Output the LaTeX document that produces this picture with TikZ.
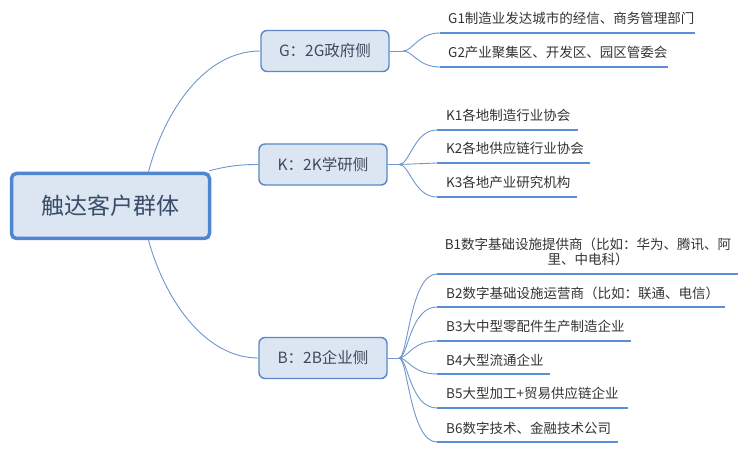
\documentclass[tikz,border=0pt]{standalone}
\usepackage{fontspec}
\setmainfont{Noto Sans CJK SC}
\definecolor{conn}{HTML}{6F96CE}
\definecolor{uln}{HTML}{5A8ED6}
\definecolor{bfill}{HTML}{DCE6F3}
\definecolor{bdraw}{HTML}{5B87C6}
\definecolor{rdraw}{HTML}{4E86D0}
\definecolor{ltext}{HTML}{333333}
\definecolor{btext}{HTML}{3E4A5C}
\definecolor{rtext}{HTML}{3A4B68}
\begin{document}
\begin{tikzpicture}[x=1pt,y=-1pt,
  rootbox/.style={draw=rdraw,line width=3.5pt,fill=bfill,rounded corners=5pt,
    minimum width=198pt,minimum height=65pt,inner sep=0pt,
    font=\fontsize{23}{27}\selectfont,text=rtext},
  branchbox/.style={draw=bdraw,line width=1.4pt,fill=bfill,rounded corners=6pt,
    minimum width=128pt,minimum height=41pt,inner sep=0pt,
    font=\fontsize{15.5}{18}\selectfont,text=btext},
  leaf/.style={anchor=base west,inner sep=0pt,text=ltext,
    font=\fontsize{13.5}{15}\selectfont},
  conline/.style={draw=conn,line width=0.9pt},
  uline/.style={draw=uln,line width=2.6pt}]
\useasboundingbox (0,0) rectangle (750,454);

% root and branches
\node[rootbox] (root) at (110.5,206) {触达客户群体};
\node[branchbox] (G) at (325,51) {G：2G政府侧};
\node[branchbox] (K) at (323,164.5) {K：2K学研侧};
\node[branchbox] (B) at (323,358) {B：2B企业侧};

% root connectors
\draw[conline] ([xshift=38pt]root.north) .. controls (165,110) and (205,51) .. (G.west);
\draw[conline] ([xshift=-2pt,yshift=1pt]root.north east) .. controls (228,166) and (240,164.5) .. (K.west);
\draw[conline] ([xshift=38pt]root.south) .. controls (165,300) and (205,358) .. (B.west);

% fork points
\coordinate (gf) at (403,51);
\coordinate (kf) at (399,164.5);
\coordinate (bf) at (399,358);
\draw[conline] (G.east) -- (gf);
\draw[conline] (K.east) -- (kf);
\draw[conline] (B.east) -- (bf);

% G leaves
\coordinate (g1a) at (440,33);  \coordinate (g1b) at (695,33);
\coordinate (g2a) at (440,67);  \coordinate (g2b) at (668,67);
\draw[conline] (gf) .. controls (413,51) and (418,33) .. (g1a);
\draw[conline] (gf) .. controls (413,51) and (418,67) .. (g2a);
\draw[uline] (g1a) -- (g1b);
\draw[uline] (g2a) -- (g2b);
\node[leaf] (g1) at (448,24) {G1制造业发达城市的经信、商务管理部门};
\node[leaf] (g2) at (448,58) {G2产业聚集区、开发区、园区管委会};

% K leaves
\coordinate (k1a) at (437,130);  \coordinate (k1b) at (578,130);
\coordinate (k2a) at (437,163);  \coordinate (k2b) at (590,163);
\coordinate (k3a) at (437,197);  \coordinate (k3b) at (577,197);
\draw[conline] (kf) .. controls (410,164.5) and (414,130) .. (k1a);
\draw[conline] (kf) -- (k2a);
\draw[conline] (kf) .. controls (410,164.5) and (414,197) .. (k3a);
\draw[uline] (k1a) -- (k1b);
\draw[uline] (k2a) -- (k2b);
\draw[uline] (k3a) -- (k3b);
\node[leaf] (k1) at (446,121) {K1各地制造行业协会};
\node[leaf] (k2) at (446,154) {K2各地供应链行业协会};
\node[leaf] (k3) at (446,188) {K3各地产业研究机构};

% B leaves
\coordinate (b1a) at (437,274);  \coordinate (b1b) at (738,274);
\coordinate (b2a) at (437,307);  \coordinate (b2b) at (725,307);
\coordinate (b3a) at (437,341);  \coordinate (b3b) at (631,341);
\coordinate (b4a) at (437,374);  \coordinate (b4b) at (550,374);
\coordinate (b5a) at (437,408);  \coordinate (b5b) at (628,408);
\coordinate (b6a) at (437,442);  \coordinate (b6b) at (618,442);
\draw[conline] (bf) .. controls (408,358) and (410,274) .. (b1a);
\draw[conline] (bf) .. controls (408,358) and (410,307) .. (b2a);
\draw[conline] (bf) .. controls (408,358) and (412,341) .. (b3a);
\draw[conline] (bf) .. controls (408,358) and (412,374) .. (b4a);
\draw[conline] (bf) .. controls (408,358) and (410,408) .. (b5a);
\draw[conline] (bf) .. controls (408,358) and (410,442) .. (b6a);
\draw[uline] (b1a) -- (b1b);
\draw[uline] (b2a) -- (b2b);
\draw[uline] (b3a) -- (b3b);
\draw[uline] (b4a) -- (b4b);
\draw[uline] (b5a) -- (b5b);
\draw[uline] (b6a) -- (b6b);
\node[leaf,anchor=base,align=center] (b1) at (588,265)
  {B1数字基础设施提供商（比如：华为、腾讯、阿\\里、中电科）};
\node[leaf] (b2) at (446,299) {B2数字基础设施运营商（比如：联通、电信）};
\node[leaf] (b3) at (446,332) {B3大中型零配件生产制造企业};
\node[leaf] (b4) at (446,366) {B4大型流通企业};
\node[leaf] (b5) at (446,399) {B5大型加工+贸易供应链企业};
\node[leaf] (b6) at (446,433) {B6数字技术、金融技术公司};
\end{tikzpicture}
\end{document}
